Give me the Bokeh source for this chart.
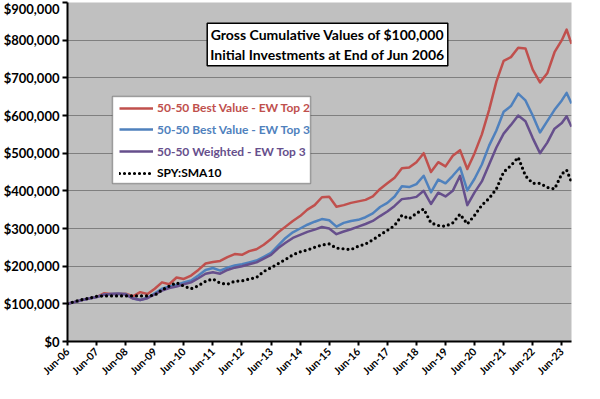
import math
from bokeh.plotting import figure
from bokeh.models import (Range1d, FixedTicker, NumeralTickFormatter, Legend,
                          LegendItem, BoxAnnotation, Label)
from bokeh.embed import file_html
from bokeh.resources import INLINE

# months after end of Jun 2006
months = [0, 3, 6, 9, 12, 15, 18, 21, 24, 27, 30, 33, 36, 39, 42, 45, 48, 51, 54, 57,
          60, 63, 66, 69, 72, 75, 78, 81, 84, 87, 90, 93, 96, 99, 102, 105, 108, 111,
          114, 117, 120, 123, 126, 129, 132, 135, 138, 141, 144, 147, 150, 153, 156,
          159, 162, 165, 168, 171, 174, 177, 180, 183, 186, 189, 192, 195, 198, 201,
          204, 206, 208]

# values in thousands of dollars
bv_top2 = [100, 105, 110, 114, 118, 128, 126, 127, 127, 120, 131, 126,
           140, 157, 152, 170, 166, 175, 190, 207, 211, 214, 224, 232,
           230, 240, 245, 257, 272, 290, 305, 320, 333, 350, 362, 383,
           384, 358, 362, 368, 372, 376, 385, 405, 420, 435, 460, 462,
           476, 500, 450, 476, 465, 493, 508, 458, 500, 550, 615, 690,
           745, 755, 780, 778, 722, 688, 712, 768, 800, 828, 790]
bv_top3 = [100, 105, 110, 114, 118, 124, 126, 127, 126, 115, 110, 116,
           128, 140, 146, 150, 157, 162, 175, 190, 195, 188, 196, 202,
           205, 210, 215, 225, 235, 255, 275, 290, 300, 310, 318, 325,
           322, 305, 315, 320, 323, 330, 340, 357, 368, 385, 412, 410,
           418, 440, 396, 430, 420, 440, 462, 401, 432, 470, 520, 560,
           610, 625, 658, 640, 600, 555, 585, 615, 640, 660, 632]
wt_top3 = [100, 105, 110, 114, 118, 124, 126, 127, 125, 114, 110, 115,
           125, 135, 142, 146, 152, 157, 168, 180, 184, 180, 190, 196,
           200, 205, 210, 220, 230, 248, 262, 275, 283, 291, 297, 304,
           300, 285, 292, 298, 305, 312, 320, 333, 345, 360, 378, 380,
           384, 400, 365, 395, 385, 400, 440, 362, 396, 425, 470, 515,
           552, 575, 600, 585, 540, 500, 528, 565, 580, 598, 570]
spy_sma10 = [100, 106, 111, 115, 120, 121, 121, 121, 121, 121, 121, 121,
             123, 137, 147, 156, 147, 140, 148, 160, 166, 155, 152, 160,
             161, 166, 170, 186, 196, 207, 218, 230, 238, 243, 250, 256,
             259, 248, 246, 244, 253, 259, 270, 283, 295, 308, 335, 326,
             340, 352, 315, 308, 306, 315, 338, 312, 335, 362, 380, 405,
             450, 467, 489, 440, 420, 420, 409, 405, 445, 455, 423]

series_names = ["50-50 Best Value - EW Top 2", "50-50 Best Value - EW Top 3",
                "50-50 Weighted - EW Top 3", "SPY:SMA10"]
series_colors = ["#C0504D", "#4F81BD", "#664F8C", "black"]

tick_months = [0, 12, 24, 36, 48, 60, 72, 84, 96, 108, 120, 132, 144, 156, 168, 180, 192, 204]
tick_labels = ["Jun-06", "Jun-07", "Jun-08", "Jun-09", "Jun-10", "Jun-11", "Jun-12",
               "Jun-13", "Jun-14", "Jun-15", "Jun-16", "Jun-17", "Jun-18", "Jun-19",
               "Jun-20", "Jun-21", "Jun-22", "Jun-23"]
y_ticks = [0, 100000, 200000, 300000, 400000, 500000, 600000, 700000, 800000, 900000]

title_text = "Gross Cumulative Values of $100,000\nInitial Investments at End of Jun 2006"

FONT = "Lato"

p = figure(width=584, height=383, output_backend="svg", toolbar_location=None,
           x_range=Range1d(0, 208), y_range=Range1d(0, 900000),
           min_border_left=60, min_border_right=13, min_border_top=2,
           min_border_bottom=30)
p.background_fill_color = "#C0C0C0"
p.border_fill_color = "white"
p.outline_line_color = None
p.xgrid.visible = False
p.ygrid.grid_line_color = "#7F7F7F"
p.ygrid.grid_line_width = 1.2
p.ygrid.ticker = FixedTicker(ticks=y_ticks)

p.yaxis.ticker = FixedTicker(ticks=y_ticks)
p.yaxis.formatter = NumeralTickFormatter(format="$0,0")
p.xaxis.ticker = FixedTicker(ticks=tick_months)
p.xaxis.major_label_overrides = {m: lab for m, lab in zip(tick_months, tick_labels)}
p.xaxis.major_label_orientation = math.pi / 4

for ax in (p.xaxis[0], p.yaxis[0]):
    ax.axis_line_color = "black"
    ax.axis_line_width = 2
    ax.major_tick_line_color = "black"
    ax.major_tick_line_width = 2
    ax.major_tick_out = 5
    ax.major_tick_in = 0
    ax.minor_tick_line_color = None
    ax.major_label_text_font = FONT
    ax.major_label_text_font_style = "bold"
    ax.major_label_text_font_size = "13px"
    ax.major_label_text_color = "black"
    ax.major_label_standoff = 3
p.xaxis.major_label_text_font_size = "10.5px"
p.xaxis.major_label_standoff = 4
p.xaxis.major_tick_out = 4

data = [bv_top2, bv_top3, wt_top3]
renderers = []
for vals, col in zip(data, series_colors[:3]):
    r = p.line(months, [v * 1000 for v in vals], line_color=col, line_width=2.5,
               line_join="round")
    renderers.append(r)
r = p.line(months, [v * 1000 for v in spy_sma10], line_color="black", line_width=3.2,
           line_dash="0 5", line_cap="round", line_join="round")
renderers.append(r)

# frame bottom in page pixels (measured from a previous render)
fb = 341

# legend box
box = BoxAnnotation(left=45, right=243, top=fb - 96, bottom=fb - 183,
                    left_units="screen", right_units="screen",
                    top_units="screen", bottom_units="screen",
                    fill_color="white", fill_alpha=1.0,
                    line_color="black", line_width=1.5)
p.add_layout(box)

item_centers = [107.5, 129.3, 151, 172.8]
for rr, name, col, cy in zip(renderers, series_names, series_colors, item_centers):
    lg = Legend(items=[LegendItem(label=name, renderers=[rr])],
                location=(52, fb - cy - 10),
                border_line_alpha=0, background_fill_alpha=0,
                label_text_color=col, label_text_font=FONT,
                label_text_font_style="bold", label_text_font_size="12px",
                glyph_width=34, glyph_height=20, label_height=20,
                label_standoff=4, padding=0, margin=0, spacing=0)
    p.add_layout(lg)

title = Label(x=260, y=fb - 44, x_units="screen", y_units="screen", text=title_text,
              text_align="center", text_baseline="middle", text_font=FONT,
              text_font_style="bold", text_font_size="14px", text_color="black",
              text_line_height=1.15,
              background_fill_color="white", border_line_color="black",
              border_line_width=1.5, padding=3)
p.add_layout(title)

open("out.html", "w").write(file_html(p, INLINE))
